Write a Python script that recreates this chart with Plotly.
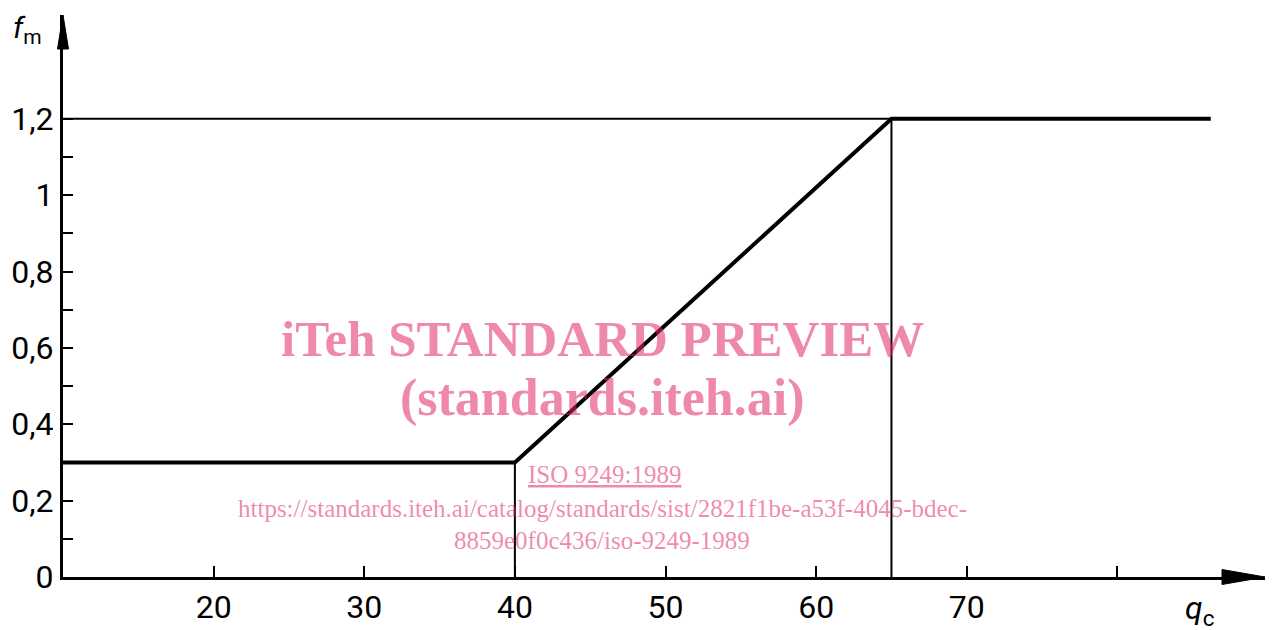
import plotly.graph_objects as go

# ---- data ----
q_c = [10, 40, 65, 86.2]          # curve break points (x)
f_m = [0.3, 0.3, 1.2, 1.2]        # curve values (y)
guide_x = [40, 65]                # thin vertical guide lines
guide_top = [0.3, 1.2]
level_y = 1.2                     # thin horizontal guide from x=10 to 65
level_x_end = 65

x_tickvals = [20, 30, 40, 50, 60, 70]
x_ticktext = ["20", "30", "40", "50", "60", "70"]
x_minor_ticks = [80]
y_tickvals = [0, 0.2, 0.4, 0.6, 0.8, 1.0, 1.2]
y_ticktext = ["0", "0,2", "0,4", "0,6", "0,8", "1", "1,2"]
y_minor_ticks = [0.1, 0.3, 0.5, 0.7, 0.9, 1.1]

X_RANGE = [10, 89.8]
Y_RANGE = [0, 1.472]

# plot area geometry in pixels
W, H = 1272, 630
PL, PR, PT, PB = 63, 1265, 15, 577
PW, PH = PR - PL, PB - PT

def px(xpix):
    return (xpix - PL) / PW

def py(ypix):
    return (PB - ypix) / PH

def dx(v):
    return (v - X_RANGE[0]) / (X_RANGE[1] - X_RANGE[0])

def dy(v):
    return (v - Y_RANGE[0]) / (Y_RANGE[1] - Y_RANGE[0])

TICKFONT = "Roboto"
WMFONT = "Liberation Serif"
PINK = "rgba(225,40,100,0.55)"

fig = go.Figure()

# thin guides
for gx, gt in zip(guide_x, guide_top):
    fig.add_trace(go.Scatter(x=[gx, gx], y=[0, gt], mode="lines",
                             line=dict(color="black", width=2), hoverinfo="skip"))
fig.add_trace(go.Scatter(x=[X_RANGE[0], level_x_end], y=[level_y, level_y], mode="lines",
                         line=dict(color="black", width=2), hoverinfo="skip"))
# main curve
fig.add_trace(go.Scatter(x=q_c, y=f_m, mode="lines",
                         line=dict(color="black", width=4), hoverinfo="skip"))

# axis arrows (paper coordinates)
ya0 = dy(Y_RANGE[1])
fig.add_shape(type="path", xref="paper", yref="paper",
              path=f"M {px(PL-5.5)} {py(PT+34)} L {px(PL)} {ya0} L {px(PL+5.5)} {py(PT+34)} Z",
              fillcolor="black", line=dict(color="black", width=1))
fig.add_shape(type="path", xref="paper", yref="paper",
              path=f"M {px(PR-43)} {py(PB-7.5)} L {dx(X_RANGE[1])} {py(PB)} L {px(PR-43)} {py(PB+7.5)} Z",
              fillcolor="black", line=dict(color="black", width=1))

def note(x, y, text, family, size, color="black"):
    fig.add_annotation(xref="paper", yref="paper", x=x, y=y, text=text,
                       showarrow=False, xanchor="center", yanchor="middle",
                       font=dict(family=family, size=size, color=color))

# axis titles
note(px(27), py(30), "<i>f</i><sub>m</sub>", TICKFONT, 30)
note(px(1199), py(610), "<i>q</i><sub>c</sub>", TICKFONT, 32)

# watermark
cx = px(602)
note(cx, py(339), "<b>iTeh STANDARD PREVIEW</b>", WMFONT, 51, PINK)
note(cx, py(398), "<b>(standards.iteh.ai)</b>", WMFONT, 52, PINK)
note(px(604), py(474), "<u>ISO 9249:1989</u>", WMFONT, 25, PINK)
note(cx, py(508), "https://standards.iteh.ai/catalog/standards/sist/2821f1be-a53f-4045-bdec-",
     WMFONT, 25, PINK)
note(cx, py(540), "8859e0f0c436/iso-9249-1989", WMFONT, 25, PINK)

fig.update_layout(
    width=W, height=H,
    margin=dict(l=PL, r=W - PR, t=PT, b=H - PB),
    paper_bgcolor="white", plot_bgcolor="white",
    showlegend=False,
    xaxis=dict(range=X_RANGE, showgrid=False, zeroline=False, automargin=False,
               showline=True, linecolor="black", linewidth=3,
               ticks="inside", ticklen=11, tickwidth=2, tickcolor="black",
               tickvals=x_tickvals, ticktext=x_ticktext,
               minor=dict(tickvals=x_minor_ticks, ticks="inside", ticklen=11,
                          tickwidth=2, tickcolor="black", showgrid=False),
               tickfont=dict(family=TICKFONT, size=32, color="black"),
               ticklabelstandoff=0),
    yaxis=dict(range=Y_RANGE, showgrid=False, zeroline=False, automargin=False,
               showline=True, linecolor="black", linewidth=3,
               ticks="inside", ticklen=10, tickwidth=2, tickcolor="black",
               tickvals=y_tickvals, ticktext=y_ticktext,
               minor=dict(tickvals=y_minor_ticks, ticks="inside", ticklen=10,
                          tickwidth=2, tickcolor="black", showgrid=False),
               tickfont=dict(family=TICKFONT, size=32, color="black"),
               ticklabelstandoff=0),
)

fig.write_html("out.html", config={"displayModeBar": False},
               post_script="document.body.style.margin='0';document.body.style.overflow='hidden';")
